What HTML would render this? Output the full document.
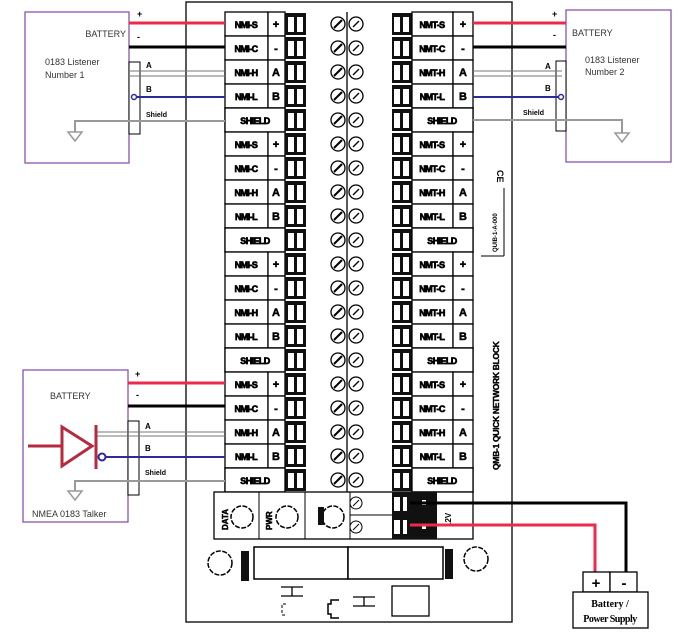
<!DOCTYPE html>
<html><head><meta charset="utf-8"><style>
html,body{margin:0;padding:0;background:#fff;}
svg{display:block;font-family:"Liberation Sans",sans-serif;}
.lb{font-weight:bold;font-size:9px;letter-spacing:-0.6px;text-anchor:middle;stroke:#000;stroke-width:0.7px;}
.sy{font-weight:bold;font-size:11px;text-anchor:middle;stroke:#000;stroke-width:0.5px;}
.sm{font-size:9px;fill:#333;}
</style></head><body>
<svg width="684" height="635" viewBox="0 0 684 635" xmlns="http://www.w3.org/2000/svg">
<defs>
<g id="r">
<rect x="225" y="0" width="43" height="24" fill="#fff" stroke="#000" stroke-width="1.3"/>
<rect x="268" y="0" width="17" height="24" fill="#fff" stroke="#000" stroke-width="1.3"/>
<rect x="285" y="1" width="21" height="22" fill="#111"/>
<rect x="288" y="5" width="6" height="15" fill="#fff"/><rect x="297" y="5" width="6" height="15" fill="#fff"/>
<circle cx="338" cy="12" r="7" fill="#fff" stroke="#000" stroke-width="1.3"/>
<line x1="334" y1="16" x2="342" y2="8" stroke="#000" stroke-width="2"/>
<circle cx="356" cy="12" r="7" fill="#fff" stroke="#000" stroke-width="1.3"/>
<line x1="353" y1="15" x2="359" y2="9" stroke="#000" stroke-width="1.3"/>
<rect x="392" y="1" width="20" height="22" fill="#111"/>
<rect x="394" y="5" width="6" height="15" fill="#fff"/><rect x="403" y="5" width="6" height="15" fill="#fff"/>
<rect x="412" y="0" width="41" height="24" fill="#fff" stroke="#000" stroke-width="1.3"/>
<rect x="453" y="0" width="20" height="24" fill="#fff" stroke="#000" stroke-width="1.3"/>
</g>
<g id="s">
<use href="#r"/>
<rect x="225" y="0" width="60" height="24" fill="#fff" stroke="#000" stroke-width="1.3"/>
<rect x="412" y="0" width="61" height="24" fill="#fff" stroke="#000" stroke-width="1.3"/>
</g>
</defs>

<rect x="186" y="2" width="326" height="620" fill="#fff" stroke="#222" stroke-width="1.5"/>
<line x1="347" y1="12" x2="347" y2="492" stroke="#000" stroke-width="1.3"/>

<use href="#r" y="12"/><use href="#r" y="36"/><use href="#r" y="60"/><use href="#r" y="84"/><use href="#s" y="108"/>
<use href="#r" y="132"/><use href="#r" y="156"/><use href="#r" y="180"/><use href="#r" y="204"/><use href="#s" y="228"/>
<use href="#r" y="252"/><use href="#r" y="276"/><use href="#r" y="300"/><use href="#r" y="324"/><use href="#s" y="348"/>
<use href="#r" y="372"/><use href="#r" y="396"/><use href="#r" y="420"/><use href="#r" y="444"/><use href="#s" y="468"/>

<g class="lb">
<text x="246" y="28">NMI-S</text><text x="246" y="52">NMI-C</text><text x="246" y="76">NMI-H</text><text x="246" y="100">NMI-L</text><text x="255" y="124">SHIELD</text>
<text x="246" y="148">NMI-S</text><text x="246" y="172">NMI-C</text><text x="246" y="196">NMI-H</text><text x="246" y="220">NMI-L</text><text x="255" y="244">SHIELD</text>
<text x="246" y="268">NMI-S</text><text x="246" y="292">NMI-C</text><text x="246" y="316">NMI-H</text><text x="246" y="340">NMI-L</text><text x="255" y="364">SHIELD</text>
<text x="246" y="388">NMI-S</text><text x="246" y="412">NMI-C</text><text x="246" y="436">NMI-H</text><text x="246" y="460">NMI-L</text><text x="255" y="484">SHIELD</text>
<text x="432" y="28">NMT-S</text><text x="432" y="52">NMT-C</text><text x="432" y="76">NMT-H</text><text x="432" y="100">NMT-L</text><text x="442" y="124">SHIELD</text>
<text x="432" y="148">NMT-S</text><text x="432" y="172">NMT-C</text><text x="432" y="196">NMT-H</text><text x="432" y="220">NMT-L</text><text x="442" y="244">SHIELD</text>
<text x="432" y="268">NMT-S</text><text x="432" y="292">NMT-C</text><text x="432" y="316">NMT-H</text><text x="432" y="340">NMT-L</text><text x="442" y="364">SHIELD</text>
<text x="432" y="388">NMT-S</text><text x="432" y="412">NMT-C</text><text x="432" y="436">NMT-H</text><text x="432" y="460">NMT-L</text><text x="442" y="484">SHIELD</text>
</g>
<g class="sy">
<text x="276" y="28">+</text><text x="276" y="52">-</text><text x="276" y="76">A</text><text x="276" y="100">B</text>
<text x="276" y="148">+</text><text x="276" y="172">-</text><text x="276" y="196">A</text><text x="276" y="220">B</text>
<text x="276" y="268">+</text><text x="276" y="292">-</text><text x="276" y="316">A</text><text x="276" y="340">B</text>
<text x="276" y="388">+</text><text x="276" y="412">-</text><text x="276" y="436">A</text><text x="276" y="460">B</text>
<text x="463" y="28">+</text><text x="463" y="52">-</text><text x="463" y="76">A</text><text x="463" y="100">B</text>
<text x="463" y="148">+</text><text x="463" y="172">-</text><text x="463" y="196">A</text><text x="463" y="220">B</text>
<text x="463" y="268">+</text><text x="463" y="292">-</text><text x="463" y="316">A</text><text x="463" y="340">B</text>
<text x="463" y="388">+</text><text x="463" y="412">-</text><text x="463" y="436">A</text><text x="463" y="460">B</text>
</g>

<text transform="translate(499,470) rotate(-90)" font-size="8.5" font-weight="bold" letter-spacing="-0.3" stroke="#000" stroke-width="0.4">QMB-1 QUICK NETWORK BLOCK</text>
<text transform="translate(497,170) rotate(90)" font-size="9" font-weight="bold">CE</text>
<line x1="504" y1="188" x2="504" y2="256" stroke="#000"/><line x1="481" y1="256" x2="504" y2="256" stroke="#000"/>
<text transform="translate(497,252) rotate(-90)" font-size="6" font-weight="bold">QUIB-1-A-000</text>

<rect x="214" y="492" width="259" height="47" fill="#fff" stroke="#000" stroke-width="1.3"/>
<line x1="259" y1="492" x2="259" y2="539" stroke="#000"/><line x1="305" y1="492" x2="305" y2="539" stroke="#000"/><line x1="350" y1="492" x2="350" y2="539" stroke="#000"/><line x1="350" y1="515" x2="392" y2="515" stroke="#000"/>
<circle cx="242" cy="517" r="11" fill="none" stroke="#000" stroke-width="1.5" stroke-dasharray="5 1.5"/>
<circle cx="287" cy="517" r="11" fill="none" stroke="#000" stroke-width="1.5" stroke-dasharray="5 1.5"/>
<circle cx="333" cy="517" r="11" fill="none" stroke="#000" stroke-width="1.5" stroke-dasharray="5 1.5"/>
<text transform="translate(228,530) rotate(-90)" font-size="8" font-weight="bold" stroke="#000" stroke-width="0.5">DATA</text>
<text transform="translate(272,530) rotate(-90)" font-size="8" font-weight="bold" stroke="#000" stroke-width="0.5">PWR</text>
<rect x="318" y="507" width="6" height="18" fill="#111"/>
<circle cx="356" cy="503" r="6" fill="#fff" stroke="#000"/><line x1="353" y1="506" x2="359" y2="500" stroke="#000"/>
<circle cx="356" cy="527" r="6" fill="#fff" stroke="#000"/><line x1="353" y1="530" x2="359" y2="524" stroke="#000"/>
<rect x="392" y="492" width="20" height="47" fill="#111"/>
<rect x="394" y="497" width="6" height="14" fill="#fff"/><rect x="403" y="497" width="4" height="14" fill="#fff"/>
<rect x="394" y="520" width="6" height="14" fill="#fff"/><rect x="403" y="520" width="4" height="14" fill="#fff"/>
<rect x="412" y="492" width="25" height="47" fill="#111"/>
<rect x="422" y="500" width="4" height="5" fill="#fff"/><rect x="422" y="524" width="4" height="5" fill="#fff"/>
<text transform="translate(451,527) rotate(-90)" font-size="8" font-weight="bold">12V</text>
<circle cx="220" cy="563" r="12" fill="none" stroke="#000" stroke-width="1.5" stroke-dasharray="5 1.5"/>
<rect x="241" y="551" width="8" height="30" fill="#111"/>
<rect x="254" y="547" width="94" height="32" fill="#fff" stroke="#000" stroke-width="1.5"/>
<rect x="348" y="547" width="95" height="32" fill="#fff" stroke="#000" stroke-width="1.5"/>
<rect x="445" y="549" width="8" height="30" fill="#111"/>
<circle cx="476" cy="559" r="12" fill="none" stroke="#000" stroke-width="1.5" stroke-dasharray="5 1.5"/>
<path d="M281 587h22M292 587v9M281 596h22" stroke="#000" fill="none" stroke-width="1.3"/>
<path d="M286 604h-4v11h4" stroke="#000" fill="none" stroke-dasharray="3 2"/>
<path d="M339 600h-8v4h-3v10h3v4h8" stroke="#000" fill="none" stroke-width="1.5"/>
<path d="M353 597h22M364 597v9M353 606h22" stroke="#000" fill="none" stroke-width="1.3"/>
<rect x="392" y="586" width="37" height="30" fill="none" stroke="#000" stroke-width="1.3"/>

<rect x="25" y="12" width="104" height="151" fill="#fff" stroke="#8a55b0" stroke-width="1.3"/>
<rect x="129" y="62" width="11" height="72" fill="#fff" stroke="#000"/>
<text x="126" y="37" font-size="9" text-anchor="end" fill="#333">BATTERY</text>
<text x="45" y="65" class="sm">0183 Listener</text><text x="45" y="78" class="sm">Number 1</text>
<text x="137" y="17" font-size="9" font-weight="bold">+</text><text x="137" y="40" font-size="9" font-weight="bold">-</text>
<text x="146" y="68" font-size="8" font-weight="bold">A</text><text x="146" y="92" font-size="8" font-weight="bold">B</text>
<text x="146" y="117" font-size="7" font-weight="bold">Shield</text>
<line x1="129" y1="23" x2="225" y2="23" stroke="#ee2a4c" stroke-width="3"/>
<line x1="129" y1="47" x2="225" y2="47" stroke="#000" stroke-width="3"/>
<line x1="130" y1="71" x2="225" y2="71" stroke="#777" stroke-width="1"/><line x1="130" y1="76" x2="225" y2="76" stroke="#777" stroke-width="1"/>
<line x1="133" y1="97" x2="225" y2="97" stroke="#2c2c99" stroke-width="2"/>
<circle cx="134" cy="97" r="2.5" fill="#fff" stroke="#2c2c99" stroke-width="1.5"/>
<polyline points="225,121 75,121 75,132" fill="none" stroke="#999" stroke-width="2"/>
<path d="M68 132h14l-7 9z" fill="none" stroke="#999" stroke-width="1.5"/>

<rect x="566" y="10" width="105" height="152" fill="#fff" stroke="#8a55b0" stroke-width="1.3"/>
<rect x="556" y="61" width="10" height="70" fill="#fff" stroke="#000"/>
<text x="572" y="36" font-size="9" fill="#333">BATTERY</text>
<text x="585" y="63" class="sm">0183 Listener</text><text x="585" y="75" class="sm">Number 2</text>
<text x="552" y="17" font-size="9" font-weight="bold">+</text><text x="553" y="38" font-size="9" font-weight="bold">-</text>
<text x="545" y="69" font-size="8" font-weight="bold">A</text><text x="545" y="91" font-size="8" font-weight="bold">B</text>
<text x="523" y="115" font-size="7" font-weight="bold">Shield</text>
<line x1="473" y1="23" x2="566" y2="23" stroke="#ee2a4c" stroke-width="3"/>
<line x1="473" y1="47" x2="566" y2="47" stroke="#000" stroke-width="3"/>
<line x1="473" y1="71" x2="562" y2="71" stroke="#777"/><line x1="473" y1="76" x2="562" y2="76" stroke="#777"/>
<line x1="473" y1="97" x2="561" y2="97" stroke="#2c2c99" stroke-width="2"/>
<circle cx="561" cy="97" r="2.5" fill="#fff" stroke="#2c2c99" stroke-width="1.5"/>
<polyline points="473,120 622,120 622,133" fill="none" stroke="#999" stroke-width="2"/>
<path d="M615 133h14l-7 9z" fill="none" stroke="#999" stroke-width="1.5"/>

<rect x="23" y="370" width="105" height="152" fill="#fff" stroke="#8a55b0" stroke-width="1.3"/>
<rect x="128" y="421" width="11" height="74" fill="#fff" stroke="#000"/>
<text x="50" y="399" font-size="9" fill="#333">BATTERY</text>
<text x="32" y="517" font-size="9" fill="#333">NMEA 0183 Talker</text>
<text x="135" y="377" font-size="9" font-weight="bold">+</text><text x="136" y="398" font-size="9" font-weight="bold">-</text>
<text x="145" y="429" font-size="8" font-weight="bold">A</text><text x="145" y="451" font-size="8" font-weight="bold">B</text>
<text x="145" y="475" font-size="7" font-weight="bold">Shield</text>
<line x1="128" y1="383" x2="225" y2="383" stroke="#ee2a4c" stroke-width="3"/>
<line x1="128" y1="406" x2="225" y2="406" stroke="#000" stroke-width="3"/>
<line x1="97" y1="432" x2="225" y2="432" stroke="#777"/><line x1="97" y1="436" x2="225" y2="436" stroke="#777"/>
<line x1="103" y1="457" x2="225" y2="457" stroke="#2c2c99" stroke-width="2"/>
<circle cx="102" cy="457" r="3.5" fill="#fff" stroke="#2c2c99" stroke-width="2"/>
<line x1="28" y1="446" x2="62" y2="446" stroke="#b52a3e" stroke-width="3"/>
<path d="M62 427L92 446L62 466z" fill="none" stroke="#b52a3e" stroke-width="3"/>
<line x1="96" y1="425" x2="96" y2="469" stroke="#b52a3e" stroke-width="3"/>
<polyline points="225,481 75,481 75,491" fill="none" stroke="#999" stroke-width="2"/>
<path d="M68 491h14l-7 9z" fill="none" stroke="#999" stroke-width="1.5"/>

<polyline points="410,503 626,503 626,572" fill="none" stroke="#000" stroke-width="3"/>
<polyline points="410,525 595,525 595,572" fill="none" stroke="#ee2a4c" stroke-width="3"/>
<rect x="583" y="572" width="27" height="20" fill="#fff" stroke="#000" stroke-width="1.3"/>
<rect x="610" y="572" width="27" height="20" fill="#fff" stroke="#000" stroke-width="1.3"/>
<text x="596" y="588" font-size="15" font-weight="bold" text-anchor="middle">+</text>
<text x="624" y="588" font-size="15" font-weight="bold" text-anchor="middle">-</text>
<rect x="573" y="592" width="75" height="36" fill="#fff" stroke="#000" stroke-width="1.3"/>
<text x="610" y="607" font-size="10" font-weight="bold" text-anchor="middle" font-family="Liberation Serif,serif">Battery /</text>
<text x="610" y="622" font-size="10" font-weight="bold" text-anchor="middle" font-family="Liberation Serif,serif" letter-spacing="-0.5">Power Supply</text>
</svg>
</body></html>
